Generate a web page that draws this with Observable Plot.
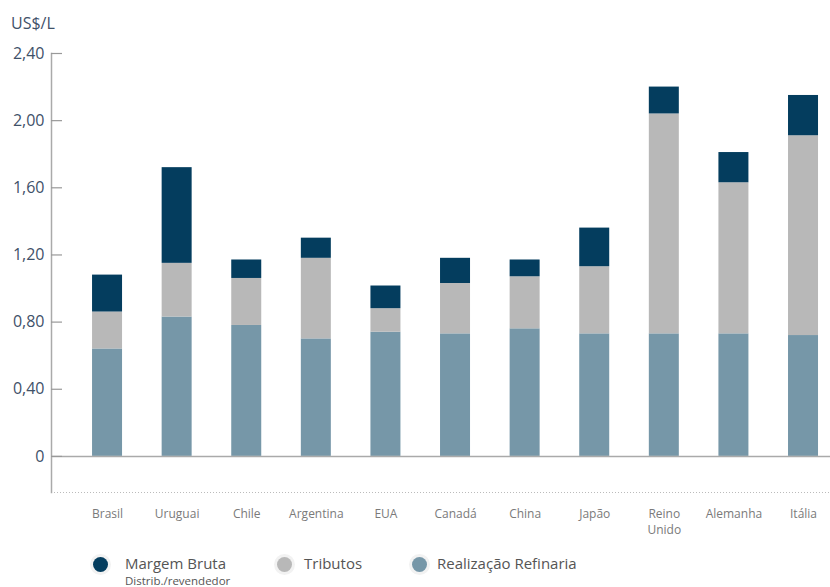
<!DOCTYPE html>
<html>
<head>
<meta charset="utf-8">
<script src="https://cdn.jsdelivr.net/npm/d3@7"></script>
<script src="https://cdn.jsdelivr.net/npm/@observablehq/plot@0.6"></script>
<style>
  body { margin: 0; background: #fff; font-family: "Open Sans", "Noto Sans", sans-serif; }
  #wrap { position: relative; width: 830px; height: 587px; overflow: hidden; }
  #title { position: absolute; left: 11px; top: 12px; font-size: 16px; color: #3f5169; }
  #chart { position: absolute; left: 0; top: 40px; }
  .leg { position: absolute; display: flex; align-items: flex-start; }
  .dot { width: 15px; height: 15px; border-radius: 50%; box-shadow: 0 0 0 3px #f2f2f2; margin-top: 4px; flex: none; }
  .lab { font-size: 15px; color: #555; line-height: 21px; }
  .sub { font-size: 11.5px; line-height: 13px; color: #555; }
</style>
</head>
<body>
<div id="wrap">
  <div id="title">US$/L</div>
  <div id="chart"></div>
</div>
<script>
const paises = ["Brasil","Uruguai","Chile","Argentina","EUA","Canadá","China","Japão","Reino Unido","Alemanha","Itália"];
const realizacao = [0.64, 0.83, 0.78, 0.70, 0.74, 0.73, 0.76, 0.73, 0.73, 0.73, 0.72];
const tributos   = [0.22, 0.32, 0.28, 0.48, 0.14, 0.30, 0.31, 0.40, 1.31, 0.90, 1.19];
const margem     = [0.22, 0.57, 0.11, 0.12, 0.135, 0.15, 0.10, 0.23, 0.16, 0.18, 0.24];
const series = ["Realização Refinaria", "Tributos", "Margem Bruta"];
const colors = ["#7697a8", "#b8b8b8", "#043d5e"];
const yTicks = [0, 0.4, 0.8, 1.2, 1.6, 2.0, 2.4];
const yDomain = [-0.215, 2.4];

const data = [];
paises.forEach((p, i) => {
  data.push({pais: p, serie: series[0], valor: realizacao[i]});
  data.push({pais: p, serie: series[1], valor: tributos[i]});
  data.push({pais: p, serie: series[2], valor: margem[i]});
});

const fmt = d => d === 0 ? "0" : d.toFixed(2).replace(".", ",");

const chart = Plot.plot({
  width: 830,
  height: 505,
  marginLeft: 51,
  marginRight: 0,
  marginTop: 13,
  marginBottom: 53,
  style: {fontFamily: "'Open Sans', 'Noto Sans', sans-serif", background: "#fff"},
  x: {type: "band", domain: paises, paddingInner: 0.569, paddingOuter: 0.381, align: 0.774, round: false, label: null},
  y: {domain: yDomain, label: null},
  color: {domain: series, range: colors},
  marks: [
    Plot.barY(data, {x: "pais", y: "valor", fill: "serie", order: series}),
    Plot.ruleY([0], {stroke: "#aaa", strokeWidth: 1.5}),
    Plot.ruleY([yDomain[0]], {stroke: "#bbb", strokeDasharray: "1,2"}),
    Plot.frame({anchor: "left", stroke: "#aaa", strokeWidth: 1.5}),
    Plot.tickY(yTicks, {y: d => d, stroke: "#999", strokeWidth: 1.2, insetRight: 768}),
    Plot.axisY({ticks: yTicks, tickFormat: fmt, tickSize: 0, tickPadding: 7, fontSize: 16, fill: "#3f5169", label: null}),
    Plot.axisX({tickSize: 0, tickPadding: 14, fontSize: 12, fill: "#7a7a7a", lineHeight: 1.35, label: null,
      tickFormat: d => d === "Reino Unido" ? "Reino\nUnido" : d})
  ]
});
document.getElementById("chart").appendChild(chart);

// legend
const legItems = [
  {name: "Margem Bruta", sub: "Distrib./revendedor", color: colors[2], left: 93, gap: 17},
  {name: "Tributos", sub: null, color: colors[1], left: 277, gap: 12},
  {name: "Realização Refinaria", sub: null, color: colors[0], left: 412, gap: 10}
];
const wrap = document.getElementById("wrap");
legItems.forEach(it => {
  const el = document.createElement("div");
  el.className = "leg";
  el.style.left = it.left + "px";
  el.style.top = "553px";
  el.innerHTML = `<div class="dot" style="background:${it.color}"></div><div class="lab" style="margin-left:${it.gap}px">${it.name}${it.sub ? `<div class="sub">${it.sub}</div>` : ""}</div>`;
  wrap.appendChild(el);
});
</script>
</body>
</html>
